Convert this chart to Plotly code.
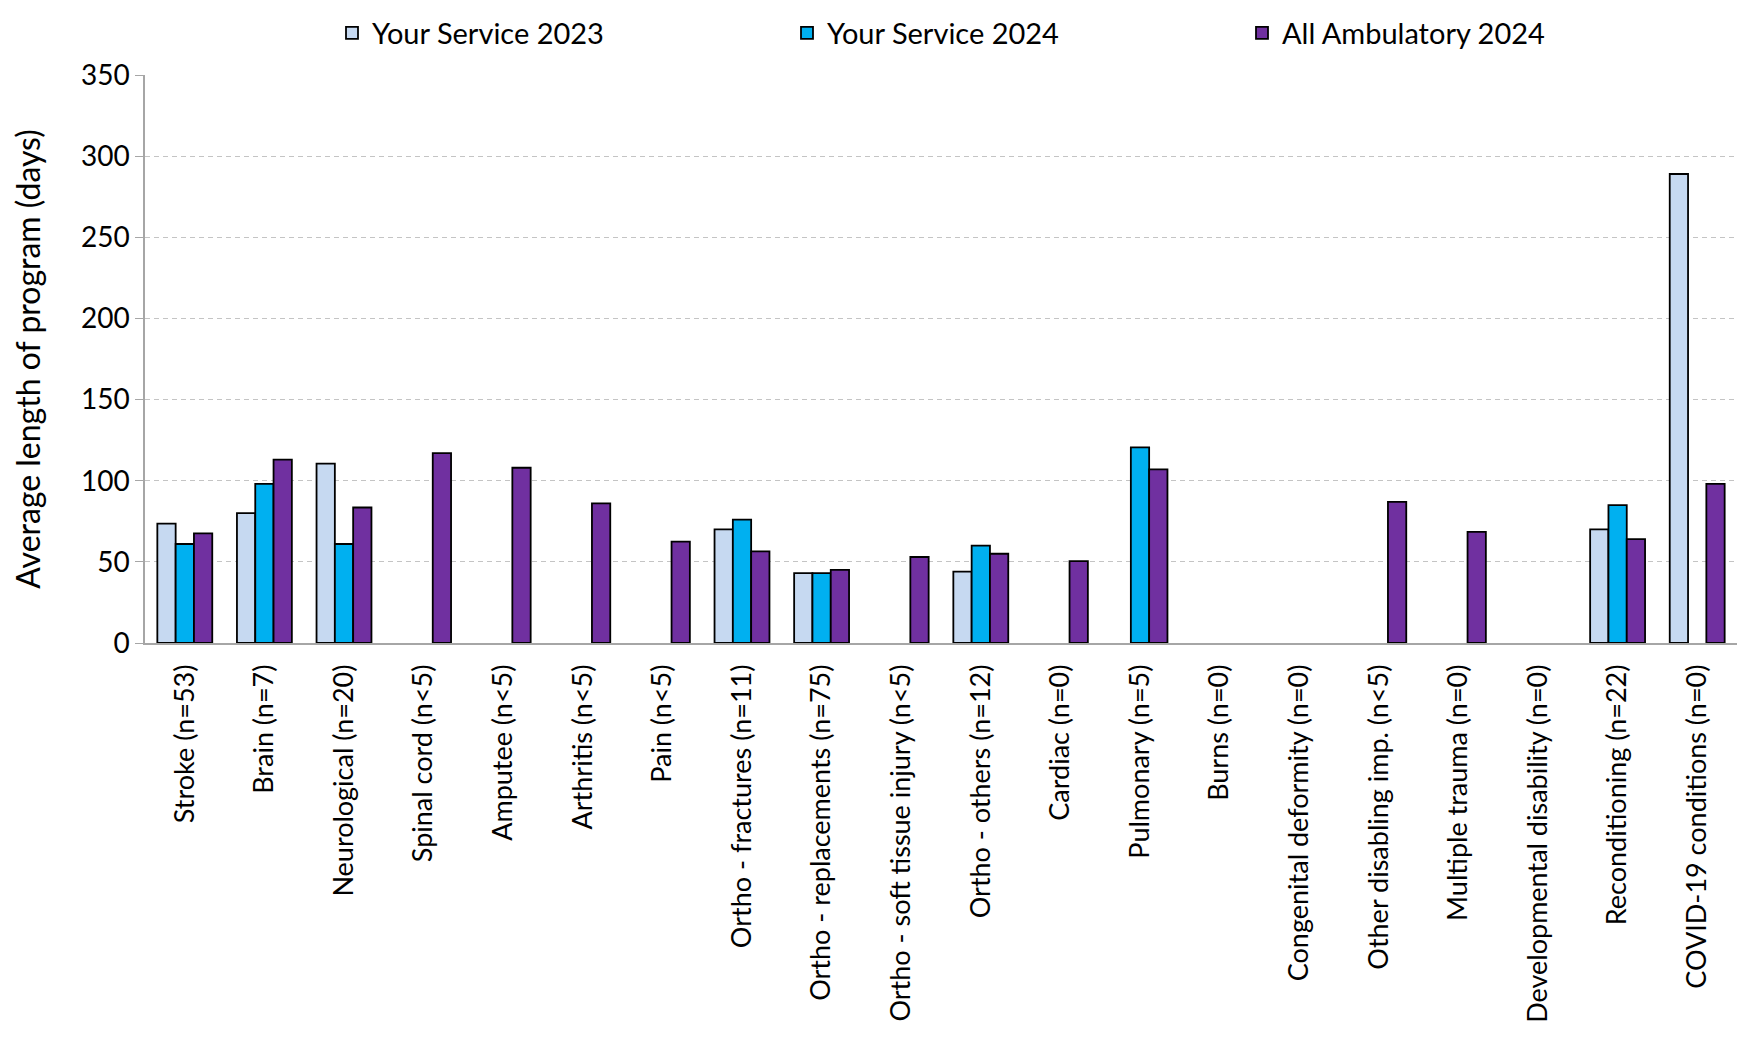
import plotly.graph_objects as go

categories = ["Stroke (n=53)", "Brain (n=7)", "Neurological (n=20)", "Spinal cord (n<5)",
              "Amputee (n<5)", "Arthritis (n<5)", "Pain (n<5)", "Ortho - fractures (n=11)",
              "Ortho - replacements (n=75)", "Ortho - soft tissue injury (n<5)",
              "Ortho - others (n=12)", "Cardiac (n=0)", "Pulmonary (n=5)", "Burns (n=0)",
              "Congenital deformity (n=0)", "Other disabling imp. (n<5)",
              "Multiple trauma (n=0)", "Developmental disability (n=0)",
              "Reconditioning (n=22)", "COVID-19 conditions (n=0)"]

service_2023 = [73.5, 80, 110.5, None, None, None, None, 70, 43, None,
                44, None, None, None, None, None, None, None, 70, 289]
service_2024 = [61, 98, 61, None, None, None, None, 76, 43, None,
                60, None, 120.5, None, None, None, None, None, 85, None]
all_amb_2024 = [67.5, 113, 83.5, 117, 108, 86, 62.5, 56.5, 45, 53,
                55, 50.5, 107, None, None, 87, 68.5, None, 64, 98]

series_names = ["Your Service 2023", "Your Service 2024", "All Ambulatory 2024"]
series_colors = ["#C6D9F1", "#00B0F0", "#7030A0"]
y_ticks = [0, 50, 100, 150, 200, 250, 300, 350]

FONT = "Lato"
W, H = 1740, 1030

fig = go.Figure()
for name, vals, col in zip(series_names, [service_2023, service_2024, all_amb_2024], series_colors):
    fig.add_trace(go.Bar(
        x=categories, y=vals, name=name,
        marker=dict(color=col, line=dict(color="#000000", width=1.8)),
    ))

fig.update_layout(
    width=W, height=H,
    paper_bgcolor="white", plot_bgcolor="white",
    margin=dict(l=137, r=11, t=67, b=395, autoexpand=False),
    barmode="group", bargap=0.31, bargroupgap=0,
    font=dict(family=FONT, size=27, color="#000000"),
    legend=dict(orientation="h", xref="container", yref="container",
                x=324 / W, xanchor="left", y=1 - 25 / H, yanchor="middle",
                entrywidth=410, entrywidthmode="pixels",
                font=dict(family=FONT, size=29), traceorder="normal",
                itemwidth=30),
    showlegend=True,
)
fig.update_yaxes(
    range=[0, 350], tickvals=y_ticks,
    showgrid=True, gridcolor="#C4C4C4", griddash="5px,4px", gridwidth=1.2,
    showline=True, linecolor="#A6A6A6", linewidth=1.5,
    ticks="outside", ticklen=8, tickcolor="#A6A6A6",
    tickfont=dict(size=28),
    title=dict(text="Average length of program (days)", font=dict(size=32), standoff=40),
    zeroline=False, automargin=False,
)
fig.update_xaxes(
    showline=True, linecolor="#A6A6A6", linewidth=1.5,
    tickangle=-90, tickfont=dict(size=27), ticks="",
    ticklabelstandoff=9,
    automargin=False,
)

fig.write_html("out.html")
